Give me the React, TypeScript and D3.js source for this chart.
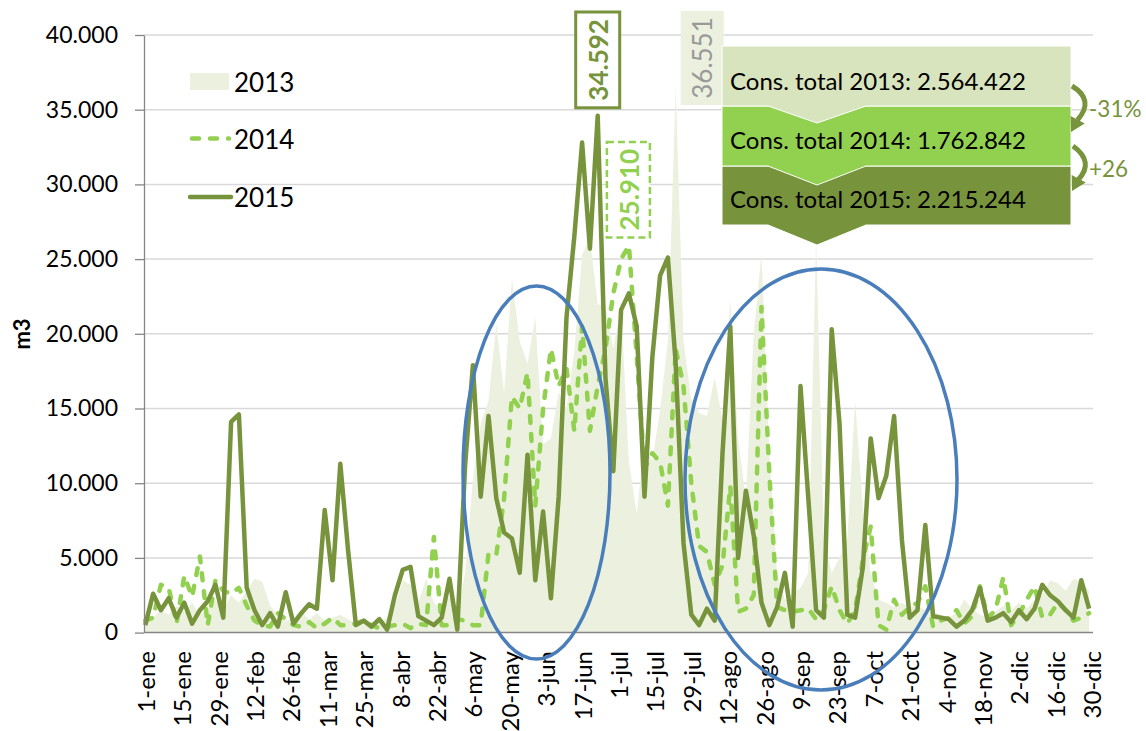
import React, { useEffect, useRef } from 'react';
import * as d3 from 'd3';

const W = 1146;
const H = 731;

// one reading every 3 days, day 0 = 1-ene
const sampleDays = d3.range(0, 365, 3);

const cons2013 = [
  800, 1000, 1500, 1200, 1800, 1400, 2000, 1200, 1600, 2200,
  1500, 2500, 2000, 2800, 3600, 3400, 1800, 1200, 800, 1000,
  1400, 900, 1300, 800, 1000, 1200, 900, 600, 800, 500,
  700, 1000, 1800, 3500, 3200, 2000, 3600, 2000, 1500, 2500,
  1000, 4000, 10300, 14000, 15500, 20700, 16000, 23700, 19500, 18000,
  21100, 12600, 13000, 16100, 15000, 18800, 25300, 26400, 22000, 21800,
  19000, 21800, 11400, 8000, 12600, 11500, 14900, 19500, 36551, 19500,
  15600, 14700, 14500, 17100, 14200, 22300, 13000, 9000, 20000, 25400,
  12000, 4000, 2200, 2600, 3000, 4000, 26500, 6200, 4000, 5000,
  6200, 15500, 8400, 4000, 2200, 2000, 1700, 2000, 1700, 1800,
  1500, 1400, 1200, 1000, 1300, 2200, 1600, 1200, 1000, 1400,
  1800, 1500, 2000, 1600, 2200, 2500, 3500, 3300, 2800, 3600,
  3400, 2800,
];

const cons2014 = [
  800, 1000, 3200, 3000, 600, 3800, 2400, 5100, 500, 3500,
  2800, 2600, 3000, 1800, 800, 500, 400, 1300, 900, 500,
  400, 700, 300, 600, 1000, 500, 500, 600, 800, 500,
  300, 400, 500, 600, 300, 600, 500, 6400, 500, 500,
  900, 800, 500, 500, 5300, 5200, 9000, 15800, 15000, 17400,
  8500, 15000, 19000, 16500, 17700, 13500, 20500, 13500, 16500, 19000,
  22700, 25000, 25910, 18500, 11000, 12000, 11400, 8500, 19000, 16500,
  10000, 5800, 5400, 3200, 4500, 9800, 1400, 1600, 2500, 21800,
  10700, 1700, 1500, 1400, 1500, 1600, 900, 1500, 3100, 1500,
  600, 1500, 4900, 7100, 500, 200, 2200, 1200, 1700, 2000,
  3100, 400, 800, 1000, 1500, 600, 1100, 3100, 1000, 1500,
  3700, 500, 1200, 2200, 3100, 1000, 1200, 2000, 1500, 800,
  1000, 1300,
];

const cons2015 = [
  500, 2600, 1500, 2300, 1000, 2000, 600, 1500, 2100, 3200,
  1000, 14100, 14600, 3000, 1500, 500, 1300, 400, 2700, 600,
  1300, 1900, 1600, 8200, 3500, 11300, 5500, 500, 800, 400,
  900, 200, 2500, 4200, 4400, 1100, 800, 500, 1000, 3600,
  200, 11200, 17900, 9100, 14500, 9000, 6700, 6300, 4000, 11900,
  3500, 8100, 2300, 9100, 21100, 26500, 32800, 25700, 34592, 17000,
  10800, 21600, 22700, 20500, 9100, 18400, 23900, 25100, 18000, 6000,
  1200, 500, 1600, 800, 12000, 20500, 5000, 9500, 6500, 2000,
  500, 1700, 4000, 400, 16500, 9000, 1500, 1000, 20300, 14000,
  1200, 1000, 4400, 13000, 9000, 10500, 14500, 6200, 1000, 1500,
  7200, 1100, 1000, 900, 400, 800, 1500, 3000, 800, 1000,
  1300, 700, 1500, 900, 1600, 3200, 2500, 2100, 1500, 1000,
  3500, 1600,
];

const tickLabels = [
  '1-ene', '15-ene', '29-ene', '12-feb', '26-feb', '11-mar', '25-mar', '8-abr', '22-abr',
  '6-may', '20-may', '3-jun', '17-jun', '1-jul', '15-jul', '29-jul', '12-ago', '26-ago',
  '9-sep', '23-sep', '7-oct', '21-oct', '4-nov', '18-nov', '2-dic', '16-dic', '30-dic',
];
const yTicks = d3.range(0, 40001, 5000);

const seriesNames = ['2013', '2014', '2015'];
const totalLabels = [
  'Cons. total 2013: 2.564.422',
  'Cons. total 2014: 1.762.842',
  'Cons. total 2015: 2.215.244',
];
const changeLabels = ['-31%', '+26'];

const App: React.FC = () => {
  const svgRef = useRef<SVGSVGElement>(null);

  useEffect(() => {
    if (!svgRef.current) return;
    document.body.style.margin = '0';

    const font = 'Lato, "Open Sans", sans-serif';
    const c2013 = '#ebf1de';
    const c2014 = '#92d050';
    const c2015 = '#77933c';
    const boxColors = ['#d7e4bd', '#92d050', '#77933c'];

    const svg = d3.select(svgRef.current);
    svg.selectAll('*').remove();

    const x = d3.scaleLinear().domain([-0.5, 364.5]).range([144, 1093]);
    const y = d3.scaleLinear().domain([0, 40000]).range([632.6, 35]);
    const fmt = (v: number) => d3.format(',')(v).replace(/,/g, '.');

    svg.append('rect').attr('width', W).attr('height', H).attr('fill', '#fff');

    // gridlines
    svg.append('g')
      .selectAll('line')
      .data(yTicks.filter(d => d > 0))
      .enter()
      .append('line')
      .attr('x1', x.range()[0]).attr('x2', x.range()[1])
      .attr('y1', d => y(d)).attr('y2', d => y(d))
      .attr('stroke', '#d9d9d9')
      .attr('stroke-width', 1.5);

    // 2013 as area
    const area = d3.area<number>()
      .x((_, i) => x(sampleDays[i]))
      .y0(y(0))
      .y1(d => y(d));
    svg.append('path').datum(cons2013).attr('d', area).attr('fill', c2013);

    const line = d3.line<number>()
      .x((_, i) => x(sampleDays[i]))
      .y(d => y(d));

    svg.append('path').datum(cons2014)
      .attr('d', line)
      .attr('fill', 'none')
      .attr('stroke', c2014)
      .attr('stroke-width', 4.5)
      .attr('stroke-dasharray', '7 11')
      .attr('stroke-linecap', 'round')
      .attr('stroke-linejoin', 'round');

    svg.append('path').datum(cons2015)
      .attr('d', line)
      .attr('fill', 'none')
      .attr('stroke', c2015)
      .attr('stroke-width', 4.5)
      .attr('stroke-linejoin', 'round');

    // y axis
    const yAxis = svg.append('g')
      .attr('transform', `translate(${x.range()[0]},0)`)
      .call(d3.axisLeft(y).tickValues(yTicks).tickSize(9).tickSizeOuter(0).tickPadding(17).tickFormat(d => fmt(+d)));
    yAxis.select('.domain').attr('stroke', '#868686').attr('stroke-width', 1.3);
    yAxis.selectAll('.tick line').attr('stroke', '#868686').attr('stroke-width', 1.3);
    yAxis.selectAll('text')
      .attr('font-size', 23)
      .attr('font-family', font)
      .attr('fill', '#000');

    // x axis
    svg.append('line')
      .attr('x1', x.range()[0]).attr('x2', x.range()[1])
      .attr('y1', y(0)).attr('y2', y(0))
      .attr('stroke', '#868686')
      .attr('stroke-width', 1.5);

    svg.append('g')
      .selectAll('text')
      .data(tickLabels)
      .enter()
      .append('text')
      .attr('transform', (_, i) => `translate(${x(i * 14)},651) rotate(-90)`)
      .attr('text-anchor', 'end')
      .attr('dominant-baseline', 'central')
      .attr('font-size', 24)
      .attr('font-family', font)
      .attr('fill', '#000')
      .text(d => d);

    svg.append('text')
      .attr('transform', 'translate(21,334) rotate(-90)')
      .attr('text-anchor', 'middle')
      .attr('dominant-baseline', 'central')
      .attr('font-size', 22)
      .attr('font-weight', 'bold')
      .attr('font-family', font)
      .text('m3');

    // blue highlight ellipses
    const ellipses = [
      { cx: 536.5, cy: 472.5, rx: 73.5, ry: 186.5 },
      { cx: 821, cy: 479.5, rx: 136, ry: 210.5 },
    ];
    svg.append('g')
      .selectAll('ellipse')
      .data(ellipses)
      .enter()
      .append('ellipse')
      .attr('cx', d => d.cx).attr('cy', d => d.cy)
      .attr('rx', d => d.rx).attr('ry', d => d.ry)
      .attr('fill', 'none')
      .attr('stroke', '#4a7ebb')
      .attr('stroke-width', 3.5);

    // legend
    const lg = svg.append('g').attr('font-family', font).attr('font-size', 26);
    lg.append('rect').attr('x', 190).attr('y', 73).attr('width', 39).attr('height', 17).attr('fill', c2013);
    lg.append('line').attr('x1', 192).attr('x2', 229).attr('y1', 138.5).attr('y2', 138.5)
      .attr('stroke', c2014).attr('stroke-width', 4.5).attr('stroke-dasharray', '7 11').attr('stroke-linecap', 'round');
    lg.append('line').attr('x1', 190).attr('x2', 231).attr('y1', 197).attr('y2', 197)
      .attr('stroke', c2015).attr('stroke-width', 4.5).attr('stroke-linecap', 'round');
    [81.5, 138.5, 197].forEach((cy, i) => {
      lg.append('text').attr('x', 234).attr('y', cy)
        .attr('dominant-baseline', 'central').attr('fill', '#000').text(seriesNames[i]);
    });

    // peak labels
    const peak15 = d3.maxIndex(cons2015);
    const px15 = x(sampleDays[peak15]);
    const py15 = y(cons2015[peak15]);
    svg.append('rect').attr('x', px15 - 22).attr('y', 12).attr('width', 44).attr('height', py15 - 8 - 12)
      .attr('fill', '#fff').attr('stroke', c2015).attr('stroke-width', 3);
    svg.append('text')
      .attr('transform', `translate(${px15},${(12 + py15 - 8) / 2}) rotate(-90)`)
      .attr('text-anchor', 'middle').attr('dominant-baseline', 'central')
      .attr('font-family', font).attr('font-size', 26).attr('font-weight', 'bold')
      .attr('fill', c2015).text(fmt(cons2015[peak15]));

    const peak14 = d3.maxIndex(cons2014);
    const px14 = x(sampleDays[peak14]);
    const py14 = y(cons2014[peak14]);
    svg.append('rect').attr('x', px14 - 22).attr('y', 142).attr('width', 43).attr('height', py14 - 8 - 142)
      .attr('fill', '#fff').attr('stroke', c2014).attr('stroke-width', 2.5).attr('stroke-dasharray', '7 4');
    svg.append('text')
      .attr('transform', `translate(${px14},${(142 + py14 - 8) / 2}) rotate(-90)`)
      .attr('text-anchor', 'middle').attr('dominant-baseline', 'central')
      .attr('font-family', font).attr('font-size', 26).attr('font-weight', 'bold')
      .attr('fill', c2014).text(fmt(cons2014[peak14]));

    const peak13 = d3.maxIndex(cons2013);
    const px13 = x(sampleDays[peak13]) + 26;
    svg.append('rect').attr('x', px13 - 21).attr('y', 11).attr('width', 43).attr('height', 94).attr('fill', c2013);
    svg.append('text')
      .attr('transform', `translate(${px13},58) rotate(-90)`)
      .attr('text-anchor', 'middle').attr('dominant-baseline', 'central')
      .attr('font-family', font).attr('font-size', 26)
      .attr('fill', '#999').text(fmt(cons2013[peak13]));

    // totals, stacked chevron boxes
    const bx0 = 722;
    const bx1 = 1071;
    const bands = [[46, 106, 17], [106, 166, 19], [166, 225, 20]];
    for (let i = 2; i >= 0; i--) {
      const [t, b, dep] = bands[i];
      const pts = [[bx0, t], [bx1, t], [bx1, b], [866, b], [817, b + dep], [768, b], [bx0, b]];
      svg.append('polygon')
        .attr('points', pts.map(p => p.join(',')).join(' '))
        .attr('fill', boxColors[i])
        .attr('stroke', '#fff')
        .attr('stroke-width', 1);
    }
    [89.5, 148.5, 208].forEach((by, i) => {
      svg.append('text').attr('x', 730).attr('y', by)
        .attr('font-family', font).attr('font-size', 24).attr('fill', '#000')
        .text(totalLabels[i]);
    });

    // curved arrows with change labels
    const arrows = [
      { s: [1072, 86], c: [1095, 100], e: [1077.5, 120], tip: [1071, 132] },
      { s: [1073, 146], c: [1095, 162], e: [1078, 180], tip: [1072, 191] },
    ];
    arrows.forEach(a => {
      svg.append('path')
        .attr('d', `M${a.s[0]},${a.s[1]} Q${a.c[0]},${a.c[1]} ${a.e[0]},${a.e[1]}`)
        .attr('fill', 'none').attr('stroke', c2015).attr('stroke-width', 5);
      const dx = a.tip[0] - a.e[0];
      const dy = a.tip[1] - a.e[1];
      const len = Math.hypot(dx, dy);
      const ux = dx / len;
      const uy = dy / len;
      const bxc = a.tip[0] - ux * 14;
      const byc = a.tip[1] - uy * 14;
      const hw = 8;
      svg.append('polygon')
        .attr('points', `${a.tip[0]},${a.tip[1]} ${bxc - uy * hw},${byc + ux * hw} ${bxc + uy * hw},${byc - ux * hw}`)
        .attr('fill', c2015);
    });
    [116.5, 177].forEach((by, i) => {
      svg.append('text').attr('x', 1089).attr('y', by)
        .attr('font-family', font).attr('font-size', 22.5).attr('fill', c2015)
        .text(changeLabels[i]);
    });
  }, []);

  return <svg ref={svgRef} width={W} height={H} style={{ display: 'block' }} />;
};

export default App;
